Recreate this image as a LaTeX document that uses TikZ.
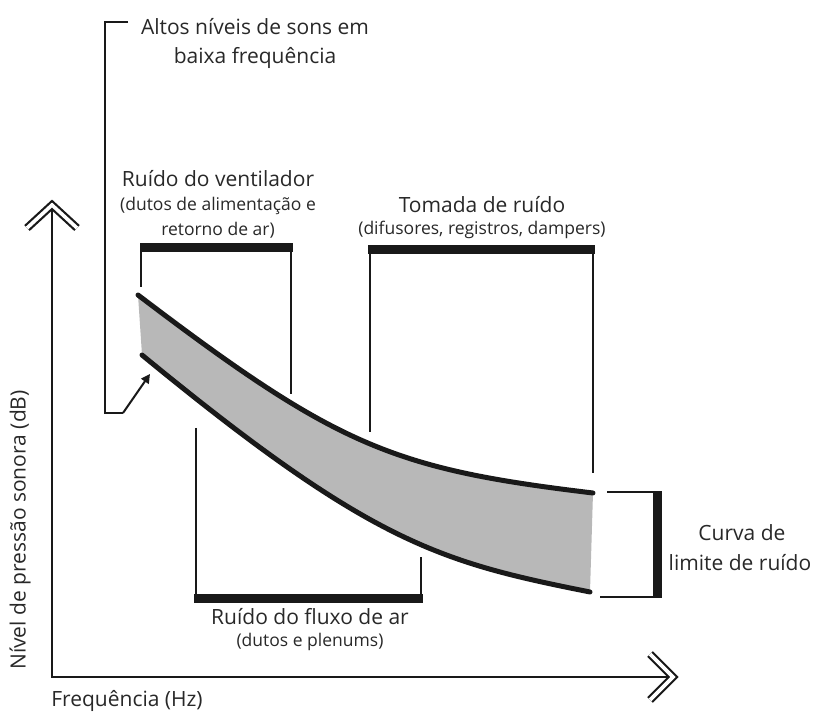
\documentclass[tikz,border=0pt]{standalone}
\usepackage{fontspec}
\setmainfont{Open Sans}
\usetikzlibrary{arrows.meta}
\definecolor{ink}{RGB}{25,25,25}
\definecolor{txt}{RGB}{40,40,40}
\begin{document}
\begin{tikzpicture}[x=1pt,y=-1pt,
  lbl/.style={inner sep=0pt,text=txt,font=\fontsize{21}{25}\selectfont},
  sub/.style={inner sep=0pt,text=txt,font=\fontsize{17.5}{21}\selectfont},
  thin/.style={draw=ink,line width=2pt},
  bar/.style={draw=ink,line width=9pt},
  curve/.style={draw=ink,line width=5pt,line cap=round},
  chev/.style={draw=ink,line width=2.2pt,double=white,double distance=3.6pt,line join=miter}]
\useasboundingbox (0,0) rectangle (815,714);

% band
\coordinate (u0) at (138,295);
\coordinate (u1) at (593,493);
\coordinate (l0) at (142,355);
\coordinate (l1) at (590,592);
\fill[black!28] (u0) .. controls (338,447) and (393,469) .. (u1)
  -- (l1) .. controls (440,562) and (372,544) .. (l0) -- cycle;
\draw[curve] (u0) .. controls (338,447) and (393,469) .. (u1);
\draw[curve] (l0) .. controls (372,544) and (440,562) .. (l1);

% axes
\coordinate (O) at (52,677);
\coordinate (ytip) at (52,207);
\coordinate (xtip) at (671,677);
\draw[thin] (ytip) -- (O) -- (xtip);
\draw[chev] (27,228) -- (52,205) -- (77,228);
\draw[chev] (650,654) -- (673,677) -- (650,700);

% Altos bracket
\coordinate (a1) at (128,22);
\coordinate (a2) at (105,22);
\coordinate (a3) at (105,413);
\coordinate (a4) at (123,413);
\coordinate (a5) at (150,374);
\draw[thin] (a1) -- (a2) -- (a3) -- (a4);
\draw[thin,-{Triangle[length=9pt,width=9pt]}] (a4) -- (a5);

% fan bracket
\draw[bar] (140,248) -- (293,248);
\draw[thin] (141,248) -- (141,287);
\draw[thin] (291,248) -- (291,394);

% tomada bracket
\draw[bar] (368,250) -- (595,250);
\draw[thin] (370,250) -- (370,432);
\draw[thin] (593,250) -- (593,473);

% airflow bracket
\draw[bar] (194,598) -- (423,598);
\draw[thin] (196,428) -- (196,598);
\draw[thin] (421,557) -- (421,598);

% noise limit bracket
\draw[thin] (607,492) -- (658,492);
\draw[thin] (600,597) -- (658,597);
\draw[draw=ink,line width=9pt] (657,491) -- (657,598);

% labels
\node[lbl] (altos) at (255,27) {Altos níveis de sons em};
\node[lbl] (baixa) at (255,58) {baixa frequência};
\node[lbl] (fan) at (218,179) {Ruído do ventilador};
\node[sub] (fan2) at (218,206) {(dutos de alimentação e};
\node[sub] (fan3) at (218,230) {retorno de ar)};
\node[lbl] (tom) at (482,205) {Tomada de ruído};
\node[sub] (tom2) at (482,230) {(difusores, registros, dampers)};
\node[lbl] (flux) at (310,617) {Ruído do fluxo de ar};
\node[sub] (flux2) at (310,642) {(dutos e plenums)};
\node[lbl] (cur1) at (742,533) {Curva de};
\node[lbl] (cur2) at (740,563) {limite de ruído};
\node[lbl,rotate=90] (ylab) at (20,530) {Nível de pressão sonora (dB)};
\node[lbl] (xlab) at (127,701) {Frequência (Hz)};
\end{tikzpicture}
\end{document}
